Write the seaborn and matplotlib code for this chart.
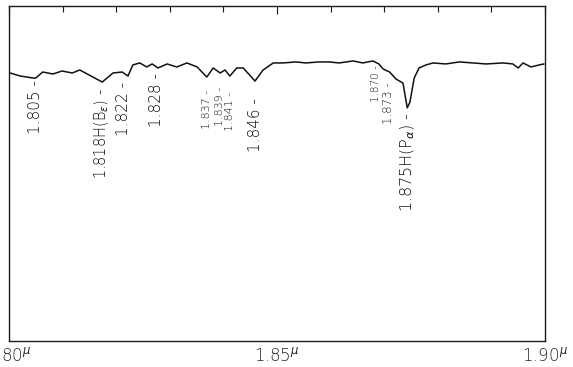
import matplotlib
matplotlib.use("Agg")
import matplotlib.pyplot as plt
import numpy as np
import pandas as pd
import seaborn as sns

# spectrum trace (wavelength in microns, relative intensity)
wavelength = [1.8002, 1.8021, 1.8045, 1.8050, 1.8063, 1.8082, 1.8099, 1.8118,
              1.8132, 1.8174, 1.8194, 1.8211, 1.8222, 1.8231, 1.8244, 1.8257,
              1.8267, 1.8278, 1.8295, 1.8313, 1.8332, 1.8351, 1.8369, 1.8381,
              1.8394, 1.8403, 1.8412, 1.8425, 1.8437, 1.8459, 1.8474, 1.8493,
              1.8511, 1.8535, 1.8554, 1.8578, 1.8597, 1.8616, 1.8642, 1.8660,
              1.8679, 1.8690, 1.8698, 1.8710, 1.8722, 1.8735, 1.8743, 1.8748,
              1.8756, 1.8765, 1.8778, 1.8791, 1.8815, 1.8840, 1.8866, 1.8890,
              1.8922, 1.8940, 1.8950, 1.8959, 1.8974, 1.8989, 1.8998]
intensity = [0.800, 0.791, 0.785, 0.785, 0.803, 0.797, 0.806, 0.800,
             0.809, 0.773, 0.800, 0.803, 0.791, 0.824, 0.830, 0.818,
             0.827, 0.815, 0.827, 0.818, 0.830, 0.818, 0.788, 0.815,
             0.800, 0.809, 0.791, 0.815, 0.815, 0.776, 0.809, 0.830,
             0.830, 0.833, 0.830, 0.833, 0.833, 0.830, 0.836, 0.830,
             0.836, 0.827, 0.812, 0.803, 0.782, 0.770, 0.696, 0.713,
             0.785, 0.815, 0.824, 0.830, 0.827, 0.833, 0.830, 0.827,
             0.830, 0.827, 0.815, 0.830, 0.818, 0.824, 0.827]

# line identifications
line_labels = ["1.805", r"1.818H(B$_\epsilon$)", "1.822", "1.828", "1.837",
               "1.839", "1.841", "1.846", "1.870", "1.873", r"1.875H(P$_\alpha$)"]
label_x = [1.8049, 1.8174, 1.8213, 1.8276, 1.8369, 1.8394, 1.8412, 1.8459,
           1.8684, 1.8707, 1.8744]
label_top = [0.779, 0.755, 0.773, 0.800, 0.749, 0.758, 0.743, 0.725,
             0.824, 0.773, 0.684]
label_size = [11, 10.5, 11, 11, 8, 8, 8, 11, 7.5, 8.5, 11.6]

tick_vals = [1.80, 1.85, 1.90]
tick_labels = [r"1.80$^{\mu}$", r"1.85$^{\mu}$", r"1.90$^{\mu}$"]

sns.set_style("white")
plt.rcParams["font.family"] = ["DejaVu Sans"]
plt.rcParams["mathtext.fontset"] = "dejavusans"

fig = plt.figure(figsize=(5.73, 3.67), dpi=100)
ax = fig.add_axes([9 / 573, 26 / 367, 536 / 573, 335 / 367])

df = pd.DataFrame({"wavelength": wavelength, "intensity": intensity})
sns.lineplot(data=df, x="wavelength", y="intensity", ax=ax,
             color="#111111", linewidth=1.1)

# rotated line ids hanging under the trace
for txt, x, y, fs in zip(line_labels, label_x, label_top, label_size):
    ax.text(x, y, txt + " -", rotation=90, ha="center", va="top",
            fontsize=fs, color="#111111", fontweight="light")

ax.set_xlim(1.80, 1.90)
ax.set_ylim(0, 1)
ax.set_xticks(tick_vals)
ax.set_xticklabels(tick_labels, fontsize=12, fontweight="light")
ax.set_xticks(np.arange(1.80, 1.9001, 0.01), minor=True)
ax.set_yticks([])
ax.tick_params(axis="x", which="both", direction="in", top=True,
               color="#1a1a1a", width=0.8, pad=4)
ax.tick_params(axis="x", which="major", length=6)
ax.tick_params(axis="x", which="minor", length=4)
ax.set_xlabel("")
ax.set_ylabel("")
for s in ax.spines.values():
    s.set_visible(True)
    s.set_color("#1a1a1a")
    s.set_linewidth(1.0)

fig.savefig("out.png", dpi=100)
